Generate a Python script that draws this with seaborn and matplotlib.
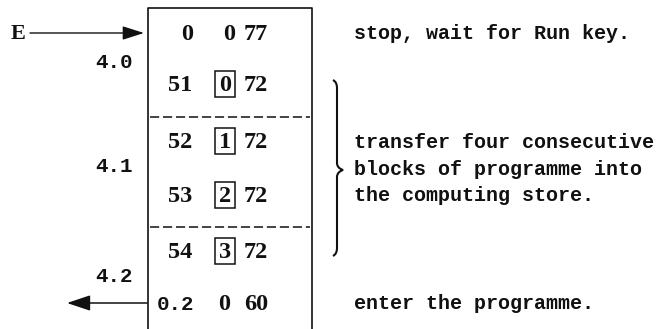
import matplotlib
matplotlib.use("Agg")
import matplotlib.pyplot as plt
import seaborn as sns
from matplotlib.patches import Rectangle, PathPatch
from matplotlib.path import Path

# programme words, one per row of the store
left_col = ["0", "51", "52", "53", "54", "0.2"]
mid_col = ["0", "0", "1", "2", "3", "0"]
mid_boxed = [False, True, True, True, True, False]
right_col = ["77", "72", "72", "72", "72", "60"]

# address labels on the left
addr_labels = ["4.0", "4.1", "4.2"]

# comments on the right
note_stop = "stop, wait for Run key."
note_transfer = ["transfer four consecutive",
                 "blocks of programme into",
                 "the computing store."]
note_enter = "enter the programme."

sns.set_theme(style="white")
plt.rcParams["font.family"] = ["Liberation Serif", "DejaVu Serif"]

fig = plt.figure(figsize=(6.59, 3.29), dpi=100)
ax = fig.add_axes([0, 0, 1, 1])
ax.set_xlim(0, 659)
ax.set_ylim(329, 0)
ax.axis("off")

ink = "#111111"
mono = ["Liberation Mono", "DejaVu Sans Mono"]

# layout (pixels)
row_y = [33, 84, 141, 195, 251, 303]
addr_y = [62, 166, 276]
box_l, box_r, box_t = 148, 312, 8

# store outline, open at the bottom
ax.plot([box_l, box_l, box_r, box_r], [329, box_t, box_t, 329], color=ink, lw=1.2)
for y in [117, 227]:
    ax.plot([box_l + 2, box_r - 2], [y, y], color=ink, lw=1.1, dashes=(6, 2.5))

for i, y in enumerate(row_y):
    lft = left_col[i]
    if "." in lft:
        ax.text(176, y + 7, lft, family=mono, fontsize=15, fontweight="bold",
                ha="center", va="baseline", color=ink)
    else:
        ax.text(187 if i == 0 else 180, y + 7, lft, fontsize=17.5, fontweight="bold",
                ha="center", va="baseline", color=ink)
    mx = 225 if mid_boxed[i] else (229 if i == 0 else 224)
    ax.text(mx, y + 7, mid_col[i], fontsize=17.5, fontweight="bold",
            ha="center", va="baseline", color=ink)
    if mid_boxed[i]:
        ax.add_patch(Rectangle((225 - 10, y - 13), 20, 26, fill=False,
                               edgecolor=ink, lw=1.1))
    ax.text(256, y + 7, right_col[i], fontsize=17.5, fontweight="bold",
            ha="center", va="baseline", color=ink)

for lab, y in zip(addr_labels, addr_y):
    ax.text(114, y + 6, lab, family=mono, fontsize=15, fontweight="bold",
            ha="center", va="baseline", color=ink)

# entry and exit arrows
ax.text(18, row_y[0] + 6, "E", fontsize=16, fontweight="bold",
        ha="center", va="baseline", color=ink)
ax.annotate("", xy=(144, row_y[0]), xytext=(30, row_y[0]),
            arrowprops=dict(arrowstyle="-|>,head_length=1.1,head_width=0.35",
                            color=ink, lw=1.0, shrinkA=0, shrinkB=0))
ax.annotate("", xy=(67, row_y[5]), xytext=(147, row_y[5]),
            arrowprops=dict(arrowstyle="-|>,head_length=1.2,head_width=0.4",
                            color=ink, lw=1.1, shrinkA=0, shrinkB=0))

# comments
tx = 354
ax.text(tx, row_y[0] + 6, note_stop, family=mono, fontsize=14.4, fontweight="bold",
        ha="left", va="baseline", color=ink)
for line, y in zip(note_transfer, [148, 175, 201]):
    ax.text(tx, y, line, family=mono, fontsize=14.4, fontweight="bold",
            ha="left", va="baseline", color=ink)
ax.text(tx, row_y[5] + 6, note_enter, family=mono, fontsize=14.4, fontweight="bold",
        ha="left", va="baseline", color=ink)

# curly brace grouping the transfer rows
verts = [(333, 80), (337, 82), (337, 88),
         (337, 163),
         (337, 168), (343, 170),
         (337, 172), (337, 177),
         (337, 248),
         (337, 254), (333, 256)]
codes = [Path.MOVETO, Path.CURVE3, Path.CURVE3,
         Path.LINETO,
         Path.CURVE3, Path.CURVE3,
         Path.CURVE3, Path.CURVE3,
         Path.LINETO,
         Path.CURVE3, Path.CURVE3]
ax.add_patch(PathPatch(Path(verts, codes), fill=False, edgecolor=ink, lw=1.5))

fig.savefig("out.png", dpi=100)
